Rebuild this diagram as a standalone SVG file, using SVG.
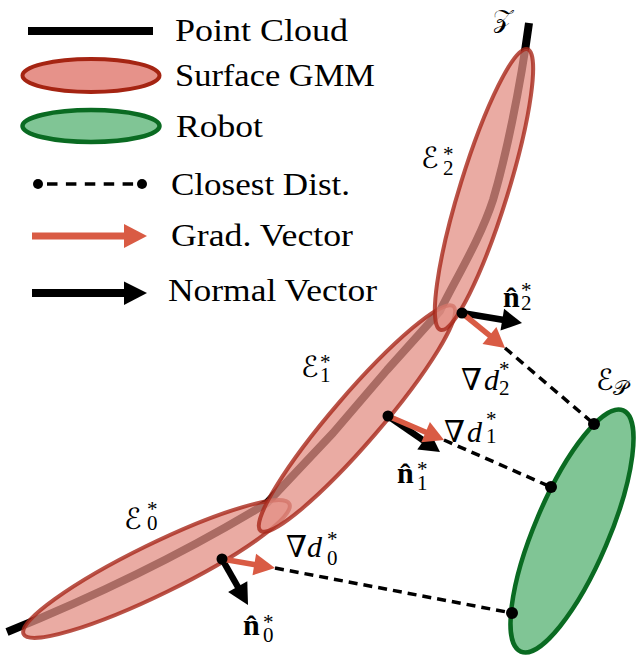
<svg xmlns="http://www.w3.org/2000/svg" width="638" height="665" viewBox="0 0 638 665">
<style>
.gmm{fill:#e38f84;fill-opacity:0.75;stroke:#a8281a;stroke-opacity:0.8;stroke-width:4}
.robot{fill:#80c595;stroke:#0a6b22;stroke-width:4.5}
.dash{stroke:#000;stroke-width:3.5;stroke-dasharray:9 6;fill:none}
.rl{stroke:#d95b44;stroke-width:5.5;fill:none}
.bl{stroke:#000;stroke-width:6.5;fill:none}
.rh{fill:#d95b44}
.bh{fill:#000}
</style>

<g id="legend" style="font-family:Liberation Serif, Times New Roman, serif;font-size:31px">
  <g id="legend-point-cloud">
    <line x1="28" y1="31" x2="153" y2="31" stroke="#000" stroke-width="8"/>
    <text x="175" y="41" textLength="173" lengthAdjust="spacingAndGlyphs" style="font-family:Liberation Serif">Point Cloud</text>
  </g>
  <g id="legend-surface-gmm">
    <ellipse cx="91" cy="75.5" rx="68.5" ry="16.5" fill="#e6928a" stroke="#a52412" stroke-width="4"/>
    <text x="175" y="86" textLength="200" lengthAdjust="spacingAndGlyphs" style="font-family:Liberation Serif">Surface GMM</text>
  </g>
  <g id="legend-robot">
    <ellipse cx="91" cy="126" rx="68.5" ry="16" class="robot" stroke-width="4"/>
    <text x="176" y="137" textLength="87" lengthAdjust="spacingAndGlyphs" style="font-family:Liberation Serif">Robot</text>
  </g>
  <g id="legend-closest-dist">
    <line x1="47" y1="184" x2="133.1" y2="184" stroke="#000" stroke-width="3.5" stroke-dasharray="10.5 8.4"/>
    <circle cx="38" cy="184" r="5"/>
    <circle cx="142" cy="184" r="5"/>
    <text x="171" y="195" textLength="179" lengthAdjust="spacingAndGlyphs" style="font-family:Liberation Serif">Closest Dist.</text>
  </g>
  <g id="legend-grad-vector">
    <line x1="32" y1="236" x2="126" y2="236" stroke="#d95b44" stroke-width="7"/>
    <polygon points="124,224 147,236 124,248" class="rh"/>
    <text x="171" y="246" textLength="182" lengthAdjust="spacingAndGlyphs" style="font-family:Liberation Serif">Grad. Vector</text>
  </g>
  <g id="legend-normal-vector">
    <line x1="32" y1="293" x2="126" y2="293" stroke="#000" stroke-width="8"/>
    <polygon points="124,281.5 147,293 124,305" class="bh"/>
    <text x="168" y="301" textLength="209" lengthAdjust="spacingAndGlyphs" style="font-family:Liberation Serif">Normal Vector</text>
  </g>
</g>

<g id="point-cloud">
  <path d="M7,632 Q150,574 267,503 L333,433 L387,370 L440,311 C455,280 480,240 493,200 C505,160 520,90 529,23" stroke="#000" stroke-width="8" fill="none" stroke-linejoin="round"/>
</g>

<g id="E0"><ellipse class="gmm" cx="0" cy="0" rx="148" ry="25" transform="translate(156.5,569) rotate(-26.1)"/></g>
<g id="E1"><ellipse class="gmm" cx="0" cy="0" rx="148" ry="24" transform="translate(357,418.5) rotate(-49.3)"/></g>
<g id="E2"><ellipse class="gmm" cx="0" cy="0" rx="147" ry="24" transform="translate(484,189.5) rotate(-72.8)"/></g>

<g id="robot"><ellipse class="robot" cx="0" cy="0" rx="131" ry="37" transform="translate(572,531) rotate(-67)"/></g>

<g id="connectors">
  <line class="dash" x1="505" y1="348" x2="594" y2="424"/>
  <line class="dash" x1="444" y1="440" x2="551" y2="487"/>
  <line class="dash" x1="275" y1="568" x2="512" y2="613"/>

  <line class="bl" x1="462" y1="313" x2="504" y2="320"/>
  <polygon class="bh" points="500.5,330.6 504.1,308.8 522,323"/>
  <line class="rl" x1="462" y1="313" x2="491" y2="336.6"/>
  <polygon class="rh" points="482.5,343.9 496.4,326.9 505,348"/>

  <line class="bl" x1="388" y1="416" x2="425" y2="441.6"/>
  <polygon class="bh" points="417.3,449.6 429.9,431.6 440,452"/>
  <line class="rl" x1="388" y1="416" x2="427" y2="432.7"/>
  <polygon class="rh" points="421.3,442.2 429.9,422 444,440"/>

  <line class="bl" x1="222" y1="559" x2="238.5" y2="588"/>
  <polygon class="bh" points="228.1,592.1 247.3,581.3 248,605"/>
  <line class="rl" x1="222" y1="559" x2="255.5" y2="564.7"/>
  <polygon class="rh" points="252.5,575.3 256.1,553.7 275,568"/>

  <circle cx="462" cy="313" r="5.5"/>
  <circle cx="388" cy="416" r="5.5"/>
  <circle cx="222" cy="559" r="5.5"/>
  <circle cx="594" cy="424" r="6"/>
  <circle cx="551" cy="487" r="6"/>
  <circle cx="512" cy="613" r="6"/>
</g>

<g id="labels" style="font-family:Liberation Serif, DejaVu Serif, serif;font-size:30px">
  <text x="493" y="27" style="font-family:DejaVu Serif, DejaVu Sans, serif;font-size:26px">𝒵</text>

  <text><tspan x="421" y="168" style="font-family:DejaVu Serif, DejaVu Sans, serif;font-size:29px">ℰ</tspan><tspan x="443" y="161" font-size="21">*</tspan><tspan x="443" y="175" font-size="21">2</tspan></text>

  <text><tspan x="301" y="377" style="font-family:DejaVu Serif, DejaVu Sans, serif;font-size:29px">ℰ</tspan><tspan x="320" y="369" font-size="21">*</tspan><tspan x="320" y="382" font-size="21">1</tspan></text>

  <text><tspan x="124" y="529" style="font-family:DejaVu Serif, DejaVu Sans, serif;font-size:29px">ℰ</tspan><tspan x="147" y="516" font-size="21">*</tspan><tspan x="147" y="530" font-size="21">0</tspan></text>

  <text><tspan x="596" y="390" style="font-family:DejaVu Serif, DejaVu Sans, serif;font-size:29px">ℰ</tspan><tspan x="613" y="395" style="font-family:DejaVu Serif, DejaVu Sans, serif;font-size:21px">𝒫</tspan></text>

  <text><tspan x="461" y="390">∇</tspan><tspan x="484" y="390" font-style="italic">d</tspan><tspan x="499" y="376" font-size="21">*</tspan><tspan x="499" y="395" font-size="21">2</tspan></text>

  <text><tspan x="444" y="442">∇</tspan><tspan x="467" y="442" font-style="italic">d</tspan><tspan x="486" y="426" font-size="21">*</tspan><tspan x="486" y="443" font-size="21">1</tspan></text>

  <text><tspan x="286" y="557">∇</tspan><tspan x="307" y="557" font-style="italic">d</tspan><tspan x="327" y="546" font-size="21">*</tspan><tspan x="327" y="565" font-size="21">0</tspan></text>

  <text><tspan x="503" y="307" font-weight="bold">n̂</tspan><tspan x="521" y="297" font-size="21">*</tspan><tspan x="521" y="310" font-size="21">2</tspan></text>

  <text><tspan x="397" y="483" font-weight="bold">n̂</tspan><tspan x="417" y="476" font-size="21">*</tspan><tspan x="417" y="490" font-size="21">1</tspan></text>

  <text><tspan x="243" y="635" font-weight="bold">n̂</tspan><tspan x="263" y="629" font-size="21">*</tspan><tspan x="263" y="642" font-size="21">0</tspan></text>
</g>
</svg>
